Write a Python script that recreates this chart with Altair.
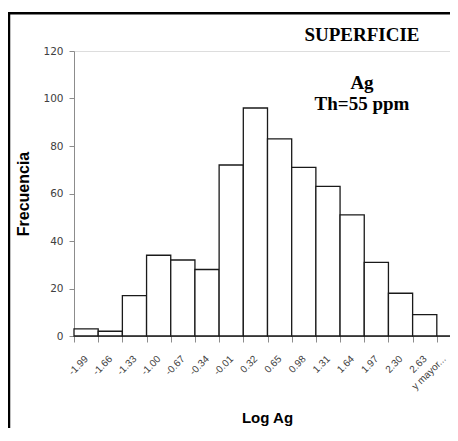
import altair as alt
import pandas as pd

categories = ["-1.99", "-1.66", "-1.33", "-1.00", "-0.67", "-0.34", "-0.01", "0.32",
              "0.65", "0.98", "1.31", "1.64", "1.97", "2.30", "2.63", "y mayor..."]
frequencies = [3, 2, 17, 34, 32, 28, 72, 96, 83, 71, 63, 51, 31, 18, 9, 0]
y_ticks = [0, 20, 40, 60, 80, 100, 120]

df = pd.DataFrame({"cat": categories, "freq": frequencies})

W, H = 376, 285

bars = alt.Chart(df).mark_bar(
    fill="white", stroke="#1a1a1a", strokeWidth=1.3
).encode(
    x=alt.X("cat:N", sort=categories,
            scale=alt.Scale(range=[0, 387], paddingInner=0, paddingOuter=0),
            axis=alt.Axis(title="Log Ag", labelAngle=315, labelAlign="right",
                          labelBaseline="middle", labelFontSize=10, labelFont="Liberation Sans",
                          labelColor="#404040", labelPadding=15, tickSize=6,
                          labelOffset=alt.ExprRef("datum.value == 'y mayor...' ? -5 : 0"),
                          tickBand="extent", tickColor="#8c8c8c", domainColor="#8c8c8c",
                          titleFont="Liberation Sans", titleFontSize=15, titleFontWeight="bold",
                          titleColor="black", titleX=193, titleY=86.5,
                          titleBaseline="alphabetic", titleAlign="center")),
    y=alt.Y("freq:Q", scale=alt.Scale(domain=[0, 120], nice=False),
            axis=alt.Axis(title="Frecuencia", values=y_ticks, grid=False,
                          labelFont="DejaVu Sans", labelFontSize=10.5, labelColor="#404040",
                          labelPadding=6, tickSize=5, tickColor="#8c8c8c",
                          domainColor="#8c8c8c", titleFont="Liberation Sans",
                          titleFontSize=16, titleFontWeight="bold", titleColor="black",
                          titleX=-51, titleY=142.5, titleAngle=270,
                          titleBaseline="middle", titleAlign="center")),
)

one = alt.Data(values=[{"a": 1}])

frame_left = alt.Chart(one).mark_rule(color="black", strokeWidth=2.5).encode(
    x=alt.value(-65), y=alt.value(-39), y2=alt.value(420))
frame_top = alt.Chart(one).mark_rule(color="black", strokeWidth=2.5).encode(
    x=alt.value(-66), x2=alt.value(420), y=alt.value(-37.7))

title_font = dict(font="Liberation Serif", fontWeight="bold", fontSize=19,
                  color="black", align="center", baseline="alphabetic")
t1 = alt.Chart(one).mark_text(text="SUPERFICIE", **title_font).encode(
    x=alt.value(288), y=alt.value(-10))
t2 = alt.Chart(one).mark_text(text="Ag", **title_font).encode(
    x=alt.value(288), y=alt.value(38))
t3 = alt.Chart(one).mark_text(text="Th=55 ppm", **title_font).encode(
    x=alt.value(288), y=alt.value(59))

chart = alt.layer(bars, frame_left, frame_top, t1, t2, t3).properties(
    width=W, height=H,
    autosize=alt.AutoSizeParams(type="none"),
    padding={"left": 66, "top": 43, "right": 0, "bottom": 92},
).configure_view(stroke=None).configure(background="white")

chart.save("out.html", embed_options={"renderer": "svg", "actions": False})
